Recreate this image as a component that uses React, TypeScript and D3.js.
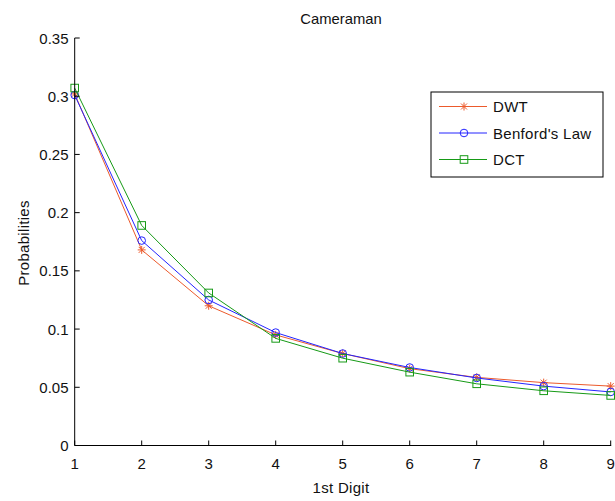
import React from "react";
import * as d3 from "d3";

const digits = [1, 2, 3, 4, 5, 6, 7, 8, 9];
const dwt = [0.302, 0.168, 0.12, 0.095, 0.079, 0.066, 0.0585, 0.054, 0.051];
const benford = [0.301, 0.176, 0.125, 0.097, 0.079, 0.067, 0.058, 0.051, 0.046];
const dct = [0.307, 0.189, 0.131, 0.092, 0.075, 0.063, 0.053, 0.047, 0.043];
const yTicks = [0, 0.05, 0.1, 0.15, 0.2, 0.25, 0.3, 0.35];
const yTickLabels = ["0", "0.05", "0.1", "0.15", "0.2", "0.25", "0.3", "0.35"];
const seriesNames = ["DWT", "Benford's Law", "DCT"];

const W = 615;
const H = 501;
const FONT = "'Liberation Sans', Arial, Helvetica, sans-serif";

type Marker = "star" | "circle" | "square";

function MarkerShape({ type, x, y, color }: { type: Marker; x: number; y: number; color: string }) {
  if (type === "circle") {
    return <circle cx={x} cy={y} r={3.8} fill="none" stroke={color} strokeWidth={1} />;
  }
  if (type === "square") {
    return <rect x={x - 3.8} y={y - 3.8} width={7.6} height={7.6} fill="none" stroke={color} strokeWidth={1} />;
  }
  const r = 4;
  const d = r * 0.75;
  return (
    <g stroke={color} strokeWidth={1}>
      <line x1={x} y1={y - r} x2={x} y2={y + r} />
      <line x1={x - r} y1={y} x2={x + r} y2={y} />
      <line x1={x - d} y1={y - d} x2={x + d} y2={y + d} />
      <line x1={x - d} y1={y + d} x2={x + d} y2={y - d} />
    </g>
  );
}

export default function App() {
  const x = d3.scaleLinear().domain([1, 9]).range([74.7, 610.7]);
  const y = d3.scaleLinear().domain([0, 0.35]).range([445.5, 38]);
  const line = d3
    .line<number>()
    .x((_, i) => x(digits[i]))
    .y((v) => y(v));

  const series: { name: string; values: number[]; color: string; marker: Marker }[] = [
    { name: seriesNames[0], values: dwt, color: "#ec5a2c", marker: "star" },
    { name: seriesNames[1], values: benford, color: "#2424ff", marker: "circle" },
    { name: seriesNames[2], values: dct, color: "#169a16", marker: "square" },
  ];

  const x0 = x.range()[0];
  const x1 = x.range()[1];
  const y0 = y.range()[0];
  const y1 = y.range()[1];

  const legX = 431;
  const legY = 92;
  const legW = 172;
  const legH = 85;
  const rowY = [106.5, 133, 159.5];

  return (
    <svg
      width={W}
      height={H}
      style={{ position: "absolute", left: 0, top: 0, background: "#fff" }}
      fontFamily={FONT}
    >
      <rect x={0} y={0} width={W} height={H} fill="#fff" />
      <text x={341} y={23.5} textAnchor="middle" fontSize={14.8} fill="#111">
        Cameraman
      </text>
      {series.map((s) => (
        <g key={s.name}>
          <path d={line(s.values) || ""} fill="none" stroke={s.color} strokeWidth={1} />
          {s.values.map((v, i) => (
            <MarkerShape key={i} type={s.marker} x={x(digits[i])} y={y(v)} color={s.color} />
          ))}
        </g>
      ))}
      {/* axes */}
      <g stroke="#000" strokeWidth={1} fill="none">
        <line x1={x0} y1={y0} x2={x1 + 0.5} y2={y0} />
        <line x1={x0} y1={y0} x2={x0} y2={y1} />
        {digits.map((d) => (
          <line key={d} x1={x(d)} y1={y0} x2={x(d)} y2={y0 - 5} />
        ))}
        {yTicks.map((t) => (
          <line key={t} x1={x0} y1={y(t)} x2={x0 + 5} y2={y(t)} />
        ))}
      </g>
      {digits.map((d) => (
        <text key={d} x={x(d)} y={469} textAnchor="middle" fontSize={15} fill="#111">
          {d}
        </text>
      ))}
      {yTicks.map((t, i) => (
        <text key={t} x={68.5} y={y(t) + 5.5} textAnchor="end" fontSize={15} fill="#111">
          {yTickLabels[i]}
        </text>
      ))}
      <text x={341} y={493} textAnchor="middle" fontSize={15} letterSpacing={0.3} fill="#111">
        1st Digit
      </text>
      <text
        transform={`translate(28.5, 243) rotate(-90)`}
        textAnchor="middle"
        fontSize={15}
        letterSpacing={0.3}
        fill="#111"
      >
        Probabilities
      </text>
      {/* legend */}
      <rect x={legX} y={legY} width={legW} height={legH} fill="#fff" stroke="#000" strokeWidth={1} />
      {series.map((s, i) => (
        <g key={s.name}>
          <line x1={439} y1={rowY[i]} x2={487} y2={rowY[i]} stroke={s.color} strokeWidth={1} />
          <MarkerShape type={s.marker} x={464} y={rowY[i]} color={s.color} />
          <text x={493} y={rowY[i] + 5.5} fontSize={15} letterSpacing={0.3} fill="#111">
            {s.name}
          </text>
        </g>
      ))}
    </svg>
  );
}
